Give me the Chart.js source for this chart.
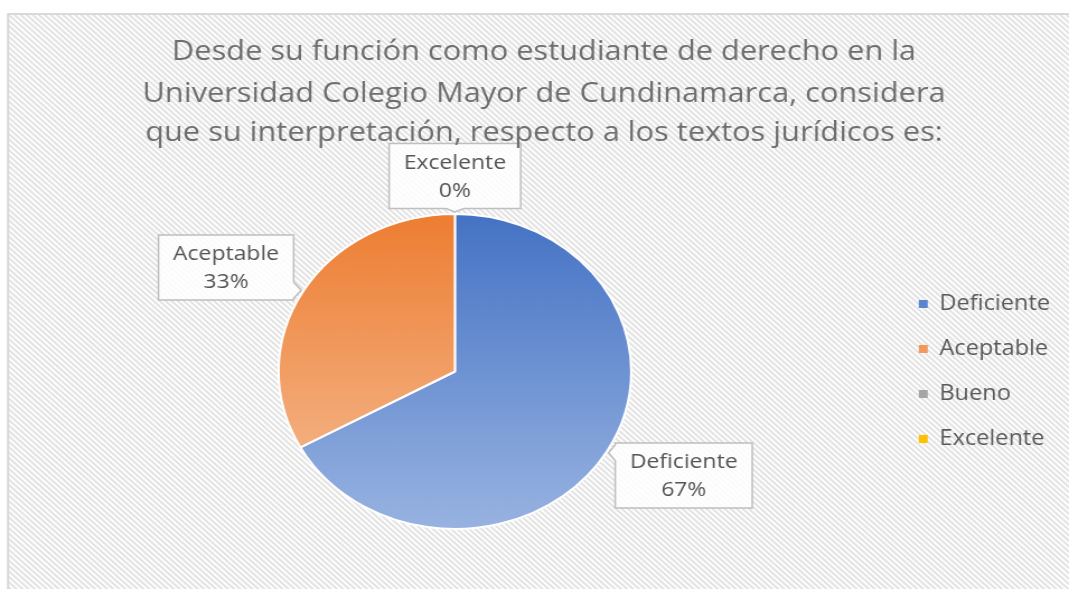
<!DOCTYPE html>
<html>
<head>
<meta charset="utf-8">
<script src="https://cdn.jsdelivr.net/npm/chart.js@4.4.0/dist/chart.umd.min.js"></script>
<style>
  html, body { margin: 0; padding: 0; background: #fff; }
  #chart { display: block; }
</style>
</head>
<body>
<!-- the original picture is an Excel chart stretched sideways, so the canvas is too -->
<canvas id="chart" width="955" height="589" style="width:1069px;height:589px"></canvas>
<script>
var titleLines = [
    "Desde su función como estudiante de derecho en la",
    "Universidad Colegio Mayor de Cundinamarca, considera",
    "que su interpretación, respecto a los textos jurídicos es:"
];
var categories = ["Deficiente", "Aceptable", "Bueno", "Excelente"];
var percentages = [67, 33, 0, 0];

var topColors = ["#4472c4", "#ed7d31", "#a5a5a5", "#ffc000"];
var bottomColors = ["#98b3e1", "#f6bf98", "#a5a5a5", "#ffc000"];

var ctx = document.getElementById("chart");

// striped chart background + frame
var backgroundPlugin = {
    id: "stripes",
    beforeDraw: function(chart) {
        var c = chart.ctx, w = chart.width, h = chart.height;
        var fx = 7.2, fy = 14;
        c.save();
        c.fillStyle = "#ffffff";
        c.fillRect(0, 0, w, h);
        c.beginPath();
        c.rect(fx, fy, w, h);
        c.clip();
        c.strokeStyle = "#e3e3e3";
        c.lineWidth = 2;
        c.beginPath();
        for (var x = fx - h; x < w; x += 5.4) {
            c.moveTo(x, fy);
            c.lineTo(x + h, fy + h);
        }
        c.stroke();
        c.restore();
        c.save();
        c.strokeStyle = "#d9d9d9";
        c.lineWidth = 2;
        c.beginPath();
        c.moveTo(fx, h);
        c.lineTo(fx, fy);
        c.lineTo(w, fy);
        c.stroke();
        c.restore();
    }
};

var titlePlugin = {
    id: "titleText",
    afterDraw: function(chart) {
        var c = chart.ctx;
        c.save();
        c.font = '27.5px "Open Sans"';
        c.fillStyle = "#6e6e6e";
        c.textAlign = "center";
        c.textBaseline = "middle";
        var ys = [52, 94, 133];
        titleLines.forEach(function(line, i) {
            c.fillText(line, 486, ys[i]);
        });
        c.restore();
    }
};

function calloutPath(c, x0, y0, x1, y1, tx, ty) {
    var g = 8;
    var px = Math.min(Math.max(tx, x0 + g), x1 - g);
    var py = Math.min(Math.max(ty, y0 + g), y1 - g);
    var top = ty < y0, bottom = ty > y1, left = tx < x0, right = tx > x1;
    var pts = [];
    if (top && left) pts.push([x0, y0 + g], [tx, ty], [x0 + g, y0]); else pts.push([x0, y0]);
    if (top && !left && !right) pts.push([px - g, y0], [tx, ty], [px + g, y0]);
    if (top && right) pts.push([x1 - g, y0], [tx, ty], [x1, y0 + g]); else pts.push([x1, y0]);
    if (right && !top && !bottom) pts.push([x1, py - g], [tx, ty], [x1, py + g]);
    if (bottom && right) pts.push([x1, y1 - g], [tx, ty], [x1 - g, y1]); else pts.push([x1, y1]);
    if (bottom && !left && !right) pts.push([px + g, y1], [tx, ty], [px - g, y1]);
    if (bottom && left) pts.push([x0 + g, y1], [tx, ty], [x0, y1 - g]); else pts.push([x0, y1]);
    if (left && !top && !bottom) pts.push([x0, py + g], [tx, ty], [x0, py - g]);
    c.beginPath();
    pts.forEach(function(p, i) {
        if (i === 0) c.moveTo(p[0], p[1]); else c.lineTo(p[0], p[1]);
    });
    c.closePath();
}

// data callouts like Excel's "data callout" labels
var calloutPlugin = {
    id: "callouts",
    afterDatasetsDraw: function(chart) {
        var c = chart.ctx;
        var meta = chart.getDatasetMeta(0);
        meta.data.forEach(function(arc, i) {
            var v = percentages[i];
            // Excel drops a zero label hidden under the next zero label
            if (v === 0 && i + 1 < percentages.length && percentages[i + 1] === 0) return;
            var p = arc.getProps(["x", "y", "startAngle", "endAngle", "outerRadius"], true);
            var mid = (p.startAngle + p.endAngle) / 2;
            var cx = p.x + Math.cos(mid) * (p.outerRadius + 80);
            var cy = p.y + Math.sin(mid) * (p.outerRadius + (v > 0 ? 47 : 38));
            var tx = p.x + Math.cos(mid) * (p.outerRadius + 2);
            var ty = p.y + Math.sin(mid) * (p.outerRadius + 2);
            var lines = [categories[i], v + "%"];
            c.save();
            c.font = '20.5px "Open Sans"';
            var tw = Math.max(c.measureText(lines[0]).width, c.measureText(lines[1]).width);
            var bw = tw + 26, bh = 65;
            calloutPath(c, cx - bw / 2, cy - bh / 2, cx + bw / 2, cy + bh / 2, tx, ty);
            c.fillStyle = "rgba(255,255,255,0.85)";
            c.fill();
            c.strokeStyle = "#bfbfbf";
            c.lineWidth = 1.5;
            c.stroke();
            c.fillStyle = "#555555";
            c.textAlign = "center";
            c.textBaseline = "middle";
            c.fillText(lines[0], cx, cy - 13);
            c.fillText(lines[1], cx, cy + 15);
            c.restore();
        });
    }
};

function sliceGradient(context) {
    var chart = context.chart, area = chart.chartArea;
    var i = context.dataIndex;
    if (!area) return topColors[i];
    var g = chart.ctx.createLinearGradient(0, area.top, 0, area.bottom);
    g.addColorStop(0, topColors[i]);
    g.addColorStop(1, bottomColors[i]);
    return g;
}

var pieChart = new Chart(ctx, {
    type: "pie",
    data: {
        labels: categories,
        datasets: [
            {
                data: percentages,
                backgroundColor: sliceGradient,
                borderColor: "#ffffff",
                borderWidth: 2
            }
        ]
    },
    options: {
        responsive: false,
        animation: false,
        devicePixelRatio: 1,
        events: [],
        layout: {
            padding: { left: 16, right: 7, top: 213, bottom: 59 }
        },
        plugins: {
            title: { display: false },
            tooltip: { enabled: false },
            legend: {
                position: "right",
                labels: {
                    font: { family: "Open Sans", size: 21 },
                    color: "#595959",
                    boxWidth: 8,
                    boxHeight: 8,
                    padding: 24,
                    generateLabels: function(chart) {
                        var items = Chart.overrides.pie.plugins.legend.labels.generateLabels(chart);
                        items.forEach(function(it) { it.lineWidth = 0; });
                        return items;
                    }
                }
            }
        }
    },
    plugins: [backgroundPlugin, calloutPlugin, titlePlugin]
});
</script>
</body>
</html>
